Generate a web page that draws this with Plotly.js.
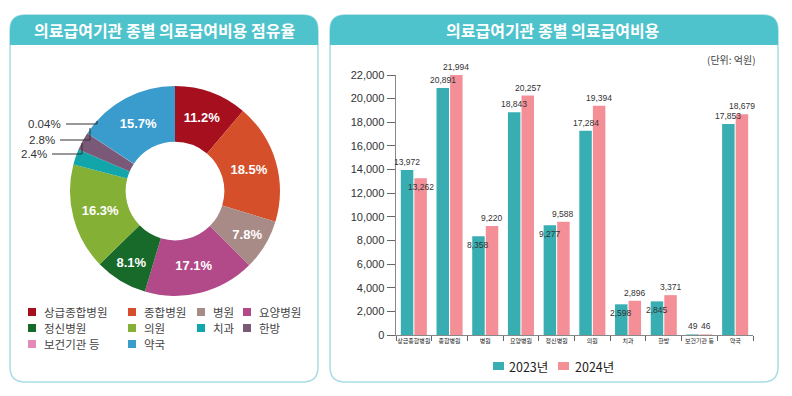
<!DOCTYPE html>
<html><head><meta charset="utf-8">
<script src="https://cdn.plot.ly/plotly-3.0.1.min.js"></script>
<style>html,body{margin:0;padding:0;background:#fff}#chart{width:792px;height:396px}</style>
</head><body><div id="chart"></div>
<script>
// ---- data ----
const shareLabels = ['상급종합병원','종합병원','병원','요양병원','정신병원','의원','치과','한방','보건기관 등','약국'];
const shareValues = [11.2, 18.5, 7.8, 17.1, 8.1, 16.3, 2.4, 2.8, 0.04, 15.7];
const shareColors = ['#A50F1E','#D5502A','#A88B86','#B24A89','#186A2A','#84B035','#12A6AB','#7A5878','#E289B8','#3A9BCD'];
const costCategories = ['상급종합병원','종합병원','병원','요양병원','정신병원','의원','치과','한방','보건기관 등','약국'];
const cost2023 = [13972, 20891, 8358, 18843, 9277, 17284, 2598, 2845, 49, 17853];
const cost2024 = [13262, 21994, 9220, 20257, 9588, 19394, 2896, 3371, 46, 18679];
const seriesNames = ['2023년','2024년'];
const seriesColors = ['#38AEB2','#F48E97'];
const yTickVals = [0,2000,4000,6000,8000,10000,12000,14000,16000,18000,20000,22000];
const smallShareLabels = ['0.04%','2.8%','2.4%'];

// ---- styling helpers ----
const W = 792, H = 396;
const px = x => x / W, py = y => 1 - y / H;
const FONT = 'Liberation Sans, Noto Sans CJK KR, sans-serif';
const KFONT = 'Noto Sans CJK KR, Liberation Sans, sans-serif';
const HEADER = '#4FC3CC', BORDER = '#A9DDE3';
const fmt = v => v.toLocaleString('en-US');

function rr(x0,y0,x1,y1,r){
  return `M${px(x0+r)},${py(y0)} L${px(x1-r)},${py(y0)} Q${px(x1)},${py(y0)} ${px(x1)},${py(y0+r)} L${px(x1)},${py(y1-r)} Q${px(x1)},${py(y1)} ${px(x1-r)},${py(y1)} L${px(x0+r)},${py(y1)} Q${px(x0)},${py(y1)} ${px(x0)},${py(y1-r)} L${px(x0)},${py(y0+r)} Q${px(x0)},${py(y0)} ${px(x0+r)},${py(y0)} Z`;
}
function topR(x0,y0,x1,y1,r){
  return `M${px(x0)},${py(y1)} L${px(x0)},${py(y0+r)} Q${px(x0)},${py(y0)} ${px(x0+r)},${py(y0)} L${px(x1-r)},${py(y0)} Q${px(x1)},${py(y0)} ${px(x1)},${py(y0+r)} L${px(x1)},${py(y1)} Z`;
}
function poly(pts){
  return 'M' + pts.map(p => `${px(p[0])},${py(p[1])}`).join(' L');
}
function note(x, y, text, font, xa, ya){
  return {xref:'paper', yref:'paper', x:px(x), y:py(y), text, showarrow:false, font, xanchor:xa||'center', yanchor:ya||'middle'};
}

const shapes = [];
const annotations = [];

// panels
[[10,318],[330,778]].forEach(([a,b]) => {
  shapes.push({type:'path', xref:'paper', yref:'paper', path: rr(a,15,b,382,15), line:{color:BORDER,width:1.5}, fillcolor:'#fff', layer:'below'});
  shapes.push({type:'path', xref:'paper', yref:'paper', path: topR(a,15,b,45,15), line:{width:0}, fillcolor:HEADER, layer:'below'});
});
annotations.push(note(164, 30, '의료급여기관 종별 의료급여비용 점유율', {family:KFONT,size:16,color:'#fff',weight:'bold'}));
annotations.push(note(553, 30, '의료급여기관 종별 의료급여비용', {family:KFONT,size:16,color:'#fff',weight:'bold'}));
annotations.push(note(758, 60, '(단위: 억원)', {family:KFONT,size:10,color:'#444'}, 'right'));

// custom legend for the donut
const colX = [28,128,197,243], rowY = [312,328,344];
shareLabels.forEach((lab,i) => {
  const cx = colX[i%4], cy = rowY[Math.floor(i/4)];
  shapes.push({type:'rect', xref:'paper', yref:'paper', x0:px(cx), x1:px(cx+8), y0:py(cy+4), y1:py(cy-4), fillcolor:shareColors[i], line:{width:0}});
  annotations.push(note(cx+14, cy, lab, {family:KFONT,size:11.5,color:'#444'}, 'left'));
});

// small slice labels with leader lines
const smallPos = [[63,124],[57,140],[49,154]];
smallShareLabels.forEach((t,i) => {
  annotations.push(note(smallPos[i][0], smallPos[i][1], t, {family:FONT,size:11.5,color:'#333'}, 'right'));
});
[[[66,124],[97,124],[97,121]], [[60,140],[90,140],[90,128]], [[52,154],[82,154],[82,143]]].forEach(p => {
  shapes.push({type:'path', xref:'paper', yref:'paper', path: poly(p), line:{color:'#333',width:1}});
});

// custom legend for bars
[[493,507],[558,573]].forEach(([sx,tx],i) => {
  shapes.push({type:'rect', xref:'paper', yref:'paper', x0:px(sx), x1:px(sx+11), y0:py(370), y1:py(362), fillcolor:seriesColors[i], line:{width:0}});
  annotations.push(note(tx, 366, seriesNames[i], {family:KFONT,size:12.5,color:'#222'}, 'left'));
});

// bar value labels (anchored on the data)
const below2023 = [false,false,true,false,true,false,true,true,false,false];
const below2024 = [true,false,false,false,false,false,false,false,false,false];
const valFont = {family:FONT, size:8.5, color:'#333'};
[[cost2023, below2023, -6.8], [cost2024, below2024, 6.8]].forEach(([vals, below, dx]) => {
  vals.forEach((v,i) => {
    annotations.push({xref:'x', yref:'y', x:costCategories[i], y:v, text:fmt(v), showarrow:false, font:valFont,
      xanchor:'center', yanchor: below[i] ? 'top' : 'bottom', xshift:dx, yshift: below[i] ? -2 : 1});
  });
});

const data = [
  {type:'pie', labels:shareLabels, values:shareValues, sort:false, direction:'clockwise', rotation:0, hole:0.47,
   marker:{colors:shareColors, line:{width:0}},
   text: shareValues.map(v => v >= 5 ? v + '%' : ''), textinfo:'text', textposition:'inside', insidetextorientation:'horizontal',
   textfont:{family:FONT, size:13, color:'#fff', weight:'bold'}, showlegend:false, hoverinfo:'skip',
   domain:{x:[px(70),px(280)], y:[py(296),py(86)]}},
  {type:'bar', x:costCategories, y:cost2023, name:seriesNames[0], marker:{color:seriesColors[0], line:{width:0}}, showlegend:false, hoverinfo:'skip'},
  {type:'bar', x:costCategories, y:cost2024, name:seriesNames[1], marker:{color:seriesColors[1], line:{width:0}}, showlegend:false, hoverinfo:'skip'}
];

const layout = {
  width:W, height:H, margin:{l:0,r:0,t:0,b:0}, paper_bgcolor:'#fff', plot_bgcolor:'rgba(0,0,0,0)',
  font:{family:FONT, color:'#333'}, showlegend:false,
  barmode:'group', bargap:0.24, bargroupgap:0.08,
  xaxis:{domain:[px(396),px(753)], range:[-0.5,9.5], type:'category', showline:true, linecolor:'#888', linewidth:1.2,
         ticks:'outside', tickson:'boundaries', ticklen:5, tickcolor:'#666', tickangle:0, tickfont:{family:KFONT,size:6,color:'#222'},
         showgrid:false, zeroline:false, fixedrange:true},
  yaxis:{domain:[py(335),py(75)], range:[0,22000], tickvals:yTickVals, tickformat:',d', showline:true, linecolor:'#888', linewidth:1.5,
         ticks:'outside', ticklen:8, tickcolor:'#666', tickfont:{family:FONT,size:11,color:'#333'},
         showgrid:false, zeroline:false, fixedrange:true},
  shapes, annotations
};
Plotly.newPlot('chart', data, layout, {staticPlot:true, displayModeBar:false});
</script></body></html>
